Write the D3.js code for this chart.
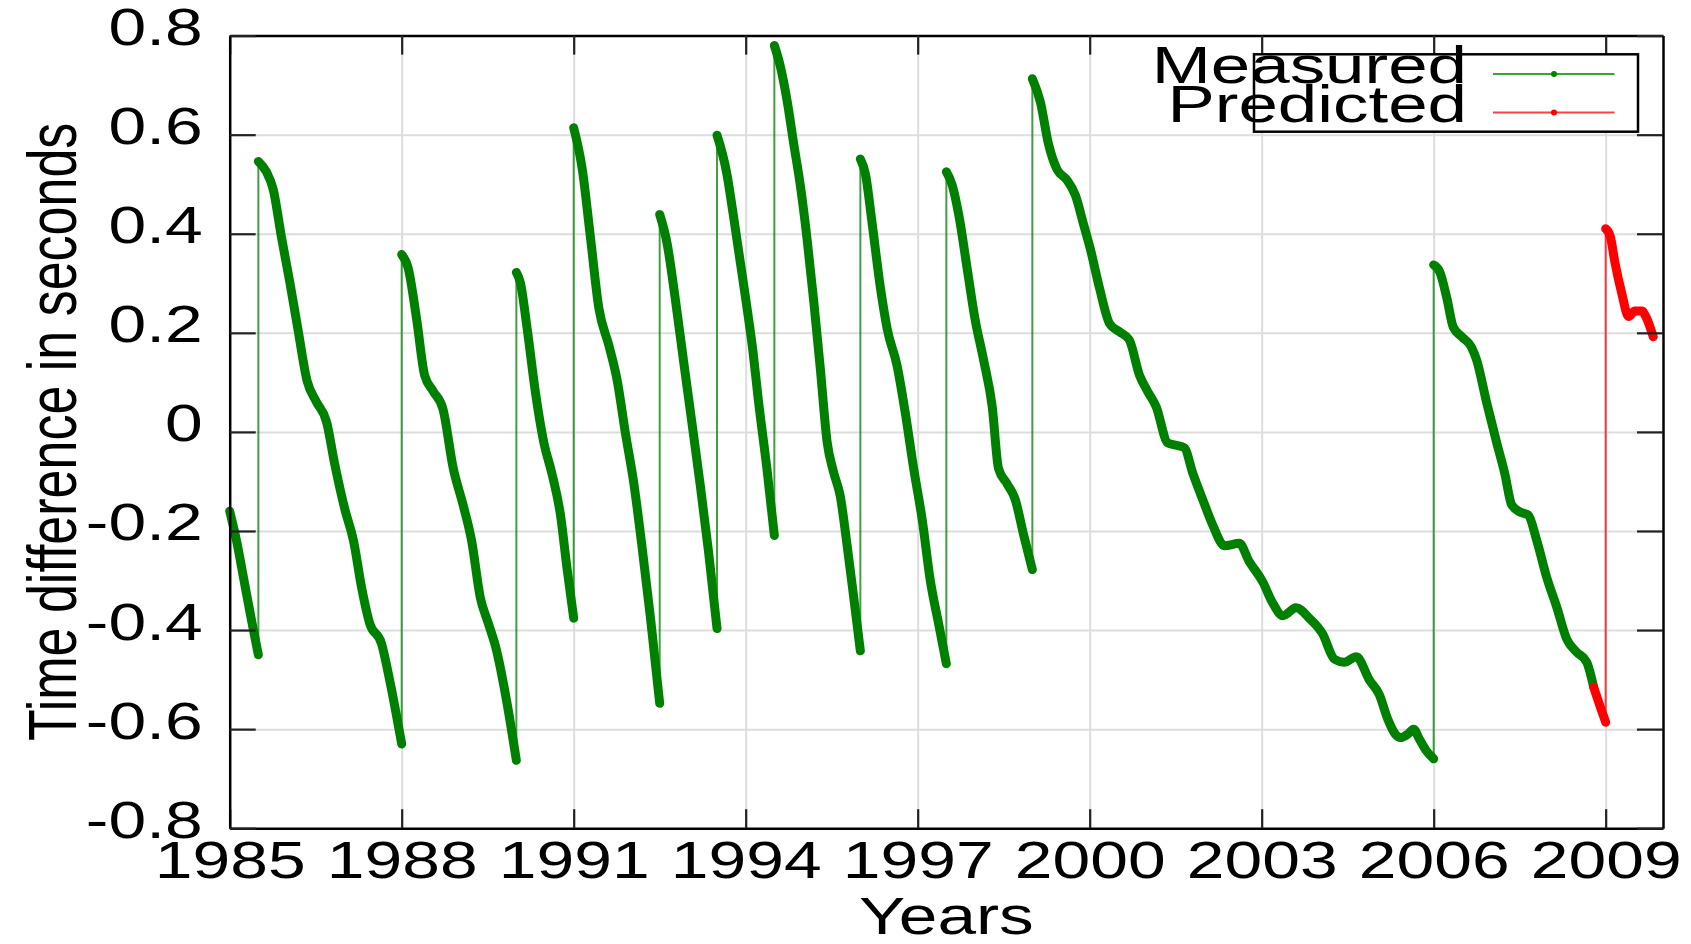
<!DOCTYPE html>
<html><head><meta charset="utf-8">
<script src="https://cdn.jsdelivr.net/npm/d3@7"></script>
<style>
html,body{margin:0;padding:0;background:#fff;}
svg{display:block;}
text{font-family:"Liberation Sans",Arial,Helvetica,sans-serif;fill:#000;}
</style></head><body>
<svg id="chart" width="1691" height="944"></svg>
<script>
// ---------- data (UT1-UTC, seconds) ----------
const measuredYears = [
  1985.0,1985.12,1985.25,1985.38,1985.5,
  1985.5,1985.64,1985.76,1985.9,1986.05,1986.19,1986.35,1986.51,1986.69,1986.83,1987.01,1987.16,1987.3,1987.44,1987.65,1987.79,1988.0,
  1988.0,1988.11,1988.26,1988.4,1988.55,1988.72,1988.9,1989.07,1989.22,1989.37,1989.51,1989.65,1989.83,1990.0,
  1990.0,1990.07,1990.19,1990.33,1990.48,1990.62,1990.77,1990.88,1991.0,
  1991.0,1991.15,1991.29,1991.44,1991.61,1991.76,1991.9,1992.05,1992.19,1992.34,1992.5,
  1992.5,1992.63,1992.77,1992.92,1993.06,1993.21,1993.35,1993.5,
  1993.5,1993.67,1993.78,1993.9,1994.02,1994.13,1994.22,1994.37,1994.5,
  1994.5,1994.6,1994.72,1994.84,1994.95,1995.07,1995.19,1995.3,1995.42,1995.53,1995.65,1995.77,1995.88,1996.0,
  1996.0,1996.09,1996.2,1996.35,1996.47,1996.64,1996.78,1996.93,1997.08,1997.22,1997.37,1997.5,
  1997.5,1997.6,1997.72,1997.86,1998.0,1998.15,1998.3,1998.41,1998.56,1998.7,1998.85,1999.0,
  1999.0,1999.14,1999.28,1999.43,1999.6,1999.75,1999.9,2000.01,2000.17,2000.35,2000.52,2000.69,2000.87,2001.01,2001.16,2001.36,2001.51,2001.65,2001.8,2001.97,2002.15,2002.35,2002.61,2002.78,2003.02,2003.19,2003.37,2003.6,2003.83,2004.06,2004.27,2004.44,2004.65,2004.88,2005.05,2005.2,2005.33,2005.42,2005.55,2005.65,2005.75,2005.88,2006.0,
  2006.0,2006.11,2006.23,2006.34,2006.49,2006.66,2006.75,2006.92,2007.1,2007.24,2007.36,2007.51,2007.65,2007.8,2007.97,2008.15,2008.32,2008.49,2008.67,2008.79
];
const measuredValues = [
  -0.16,-0.22,-0.30,-0.38,-0.45,
  0.546,0.525,0.489,0.395,0.301,0.207,0.103,0.061,0.020,-0.064,-0.157,-0.220,-0.314,-0.386,-0.428,-0.501,-0.630,
  0.358,0.332,0.228,0.114,0.082,0.046,-0.074,-0.147,-0.220,-0.334,-0.386,-0.439,-0.543,-0.663,
  0.322,0.301,0.207,0.082,-0.022,-0.084,-0.168,-0.272,-0.376,
  0.614,0.530,0.395,0.249,0.176,0.103,-0.001,-0.105,-0.230,-0.376,-0.548,
  0.439,0.38,0.27,0.14,0.02,-0.11,-0.24,-0.397,
  0.599,0.522,0.441,0.347,0.253,0.159,0.065,-0.074,-0.209,
  0.780,0.74,0.67,0.58,0.50,0.39,0.26,0.13,-0.02,-0.08,-0.13,-0.23,-0.33,-0.442,
  0.551,0.52,0.426,0.291,0.207,0.134,0.041,-0.074,-0.178,-0.30,-0.39,-0.468,
  0.525,0.499,0.436,0.332,0.228,0.145,0.051,-0.074,-0.105,-0.136,-0.209,-0.278,
  0.713,0.666,0.582,0.530,0.509,0.478,0.416,0.37,0.291,0.218,0.202,0.186,0.114,0.082,0.051,-0.022,-0.027,-0.032,-0.084,-0.136,-0.189,-0.230,-0.225,-0.261,-0.303,-0.345,-0.371,-0.355,-0.376,-0.407,-0.459,-0.465,-0.454,-0.501,-0.53,-0.58,-0.61,-0.617,-0.61,-0.60,-0.62,-0.645,-0.66,
  0.337,0.322,0.270,0.212,0.192,0.171,0.145,0.061,-0.022,-0.084,-0.147,-0.162,-0.168,-0.220,-0.293,-0.355,-0.418,-0.444,-0.465,-0.515
];
const predictedYears = [2008.79,2008.9,2009.0,2009.0,2009.08,2009.16,2009.28,2009.4,2009.51,2009.63,2009.72,2009.83];
const predictedValues = [-0.515,-0.553,-0.586,0.410,0.395,0.343,0.280,0.233,0.244,0.244,0.228,0.192];

const xTickValues = [1985,1988,1991,1994,1997,2000,2003,2006,2009];
const xTickLabels = ["1985","1988","1991","1994","1997","2000","2003","2006","2009"];
const yTickValues = [-0.8,-0.6,-0.4,-0.2,0,0.2,0.4,0.6,0.8];
const yTickLabels = ["-0.8","-0.6","-0.4","-0.2","0","0.2","0.4","0.6","0.8"];
const seriesNames = ["Measured","Predicted"];
const seriesColors = ["#008000","#ff0000"];
const xTitle = "Years";
const yTitle = "Time difference in seconds";

// ---------- layout ----------
const L = 229.7, R = 1663, T = 35.6, B = 828.2;
const SX = 1.33;           // horizontal glyph stretch of the original
const FS = 51;
const svg = d3.select("#chart");
const x = d3.scaleLinear().domain([1985, 2010]).range([L, R]);
const y = d3.scaleLinear().domain([-0.8, 0.8]).range([B, T]);

// grid
const gridX = svg.append("g").attr("transform", `translate(0,${B})`)
  .call(d3.axisBottom(x).tickValues(xTickValues.filter(v => v > 1985)).tickSize(-(B - T)).tickFormat(""));
const gridY = svg.append("g").attr("transform", `translate(${L},0)`)
  .call(d3.axisLeft(y).tickValues(yTickValues.filter(v => Math.abs(v) < 0.79)).tickSize(-(R - L)).tickFormat(""));
[gridX, gridY].forEach(g => {
  g.select(".domain").remove();
  g.selectAll("line").attr("stroke", "#dddddd").attr("stroke-width", 2);
});

// data
function drawSeries(years, values, color) {
  const pts = years.map((t, i) => [t, values[i]]);
  const thin = d3.line().x(d => x(d[0])).y(d => y(d[1]));
  const thick = d3.line().x(d => x(d[0])).y(d => y(d[1])).curve(d3.curveMonotoneX);
  // thin connecting line (includes leap-second jumps)
  svg.append("path").attr("d", thin(pts)).attr("fill", "none")
    .attr("stroke", color).attr("stroke-opacity", 0.75).attr("stroke-width", 2);
  // split into continuous runs at jumps
  const runs = [[pts[0]]];
  for (let i = 1; i < pts.length; i++) {
    if (Math.abs(pts[i][1] - pts[i - 1][1]) > 0.5) runs.push([]);
    runs[runs.length - 1].push(pts[i]);
  }
  svg.append("g").selectAll("path").data(runs).join("path")
    .attr("d", thick).attr("fill", "none").attr("stroke", color)
    .attr("stroke-width", 9).attr("stroke-linecap", "round").attr("stroke-linejoin", "round");
}
drawSeries(measuredYears, measuredValues, seriesColors[0]);
drawSeries(predictedYears, predictedValues, seriesColors[1]);

// axes / frame
function styleAxis(g) {
  g.attr("font-size", FS).attr("font-family", '"Liberation Sans",Arial,sans-serif');
  g.select(".domain").attr("stroke", "#000").attr("stroke-width", 2.5);
  g.selectAll(".tick line").attr("stroke", "#222").attr("stroke-width", 2.2);
}
const axB = svg.append("g").attr("transform", `translate(0,${B})`)
  .call(d3.axisBottom(x).tickValues(xTickValues).tickSizeInner(-19).tickSizeOuter(0)
    .tickFormat((d, i) => xTickLabels[i]));
styleAxis(axB);
axB.selectAll(".tick text").attr("y", 50).attr("dy", null).attr("fill", "#000")
  .attr("transform", `scale(${SX},1)`);

const axT = svg.append("g").attr("transform", `translate(0,${T})`)
  .call(d3.axisTop(x).tickValues(xTickValues).tickSizeInner(-19).tickSizeOuter(0).tickFormat(""));
styleAxis(axT);

const axL = svg.append("g").attr("transform", `translate(${L},0)`)
  .call(d3.axisLeft(y).tickValues(yTickValues).tickSizeInner(-26).tickSizeOuter(0)
    .tickFormat((d, i) => yTickLabels[i]));
styleAxis(axL);
axL.selectAll(".tick text").attr("x", -27 / SX).attr("y", 9).attr("dy", null).attr("fill", "#000")
  .attr("transform", `scale(${SX},1)`);

const axR = svg.append("g").attr("transform", `translate(${R},0)`)
  .call(d3.axisRight(y).tickValues(yTickValues).tickSizeInner(-26).tickSizeOuter(0).tickFormat(""));
styleAxis(axR);

// titles
svg.append("text").attr("transform", `translate(${(L + R) / 2},934) scale(1.36,1)`)
  .attr("text-anchor", "middle").attr("font-size", FS).text(xTitle);
svg.append("text").attr("transform", `translate(75.5,${(T + B) / 2}) scale(1.3,1) rotate(-90)`)
  .attr("text-anchor", "middle").attr("font-size", 52).text(yTitle);

// legend
const lg = svg.append("g");
lg.append("rect").attr("x", 1254).attr("y", 54.3).attr("width", 384).attr("height", 77.4)
  .attr("fill", "#fff").attr("stroke", "#000").attr("stroke-width", 2.5);
const legendRows = [83, 121.5];
const sampleY = [74, 112.5];
seriesNames.forEach((name, i) => {
  lg.append("text").attr("transform", `translate(1467,${legendRows[i]}) scale(1.39,1)`)
    .attr("text-anchor", "end").attr("font-size", FS).text(name);
  lg.append("line").attr("x1", 1493).attr("x2", 1614.5).attr("y1", sampleY[i]).attr("y2", sampleY[i])
    .attr("stroke", seriesColors[i]).attr("stroke-opacity", 0.75).attr("stroke-width", 2.2);
  lg.append("circle").attr("cx", 1554).attr("cy", sampleY[i]).attr("r", 3).attr("fill", seriesColors[i]);
});
</script>
</body></html>
